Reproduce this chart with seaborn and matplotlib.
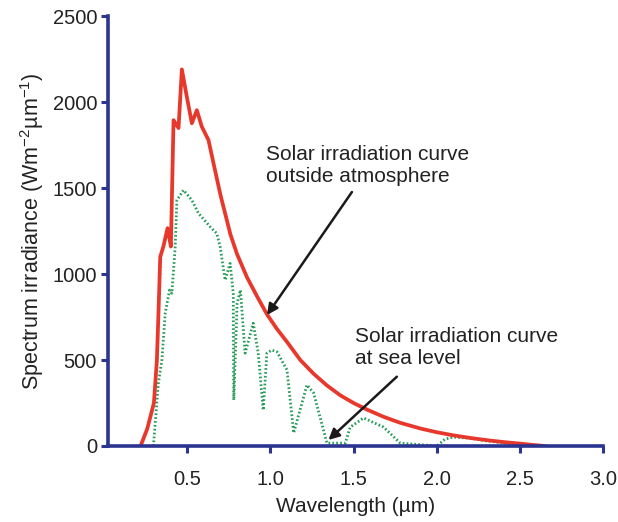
import matplotlib
matplotlib.use("Agg")
import matplotlib.pyplot as plt
import seaborn as sns
import numpy as np
import pandas as pd

# Solar irradiance outside the atmosphere (red)
outside_wl = [0.22, 0.26, 0.30, 0.318, 0.33, 0.338, 0.357, 0.382, 0.402, 0.418,
              0.448, 0.468, 0.498, 0.528, 0.558, 0.588, 0.628, 0.658, 0.70,
              0.76, 0.80, 0.86, 0.92, 0.98, 1.04, 1.10, 1.18, 1.26, 1.34, 1.42,
              1.50, 1.58, 1.68, 1.78, 1.90, 2.00, 2.10, 2.20, 2.30, 2.40, 2.50,
              2.58, 2.65]
outside_irr = [0, 100, 250, 500, 850, 1100, 1160, 1267, 1160, 1895,
               1849, 2190, 2030, 1877, 1953, 1857, 1779, 1645, 1460,
               1230, 1115, 980, 870, 765, 680, 605, 500, 420, 352, 295,
               250, 212, 170, 135, 102, 80, 62, 47, 34, 23, 14,
               6, 0]

# Solar irradiance at sea level (green dotted)
sea_wl = [0.297, 0.327, 0.348, 0.368, 0.394, 0.408, 0.428, 0.438, 0.478, 0.528,
          0.568, 0.638, 0.678, 0.698, 0.728, 0.758, 0.777, 0.780, 0.800, 0.820,
          0.848, 0.897, 0.927, 0.957, 0.979, 1.009, 1.04, 1.10, 1.14, 1.22,
          1.26, 1.34, 1.40, 1.45, 1.48, 1.56, 1.68, 1.78, 1.90, 2.00, 2.05,
          2.10, 2.20, 2.30, 2.38, 2.45, 2.55]
sea_irr = [0, 366, 500, 773, 907, 888, 1159, 1430, 1488, 1430,
           1353, 1275, 1236, 1159, 965, 1062, 888, 267, 830, 907,
           540, 714, 540, 209, 540, 558, 547, 442, 76, 355,
           308, 17, np.nan, 17, 110, 163, 110, 17, np.nan, 0, 40,
           52, 45, 30, 20, 10, 0]

x_ticks = [0.5, 1.0, 1.5, 2.0, 2.5, 3.0]
y_ticks = [0, 500, 1000, 1500, 2000, 2500]

sns.set_style("ticks")
plt.rcParams['font.family'] = ['Liberation Sans', 'DejaVu Sans']
plt.rcParams['mathtext.fontset'] = 'custom'
plt.rcParams['mathtext.rm'] = 'Liberation Sans'
plt.rcParams['mathtext.it'] = 'Liberation Sans'

axis_blue = "#2b3490"
text_col = "#222222"

fig = plt.figure(figsize=(6.18, 5.22), dpi=100)
ax = fig.add_axes([0.175, 0.1456, 0.801, 0.8235])

df_out = pd.DataFrame({"wl": outside_wl, "irr": outside_irr})
df_sea = pd.DataFrame({"wl": sea_wl, "irr": sea_irr})

sns.lineplot(data=df_sea, x="wl", y="irr", ax=ax, color="#259c58",
             linestyle=(0, (0.6, 0.8)), linewidth=2.0, sort=False,
             estimator=None)
sns.lineplot(data=df_out, x="wl", y="irr", ax=ax, color="#e8372b",
             linewidth=2.7, sort=False, estimator=None)

ax.set_xlim(0.025, 3.0)
ax.set_ylim(0, 2500)
ax.set_xticks(x_ticks)
ax.set_xticklabels([f"{t:.1f}" for t in x_ticks])
ax.set_yticks(y_ticks)
ax.set_yticklabels([str(t) for t in y_ticks])

for side in ["top", "right"]:
    ax.spines[side].set_visible(False)
for side in ["left", "bottom"]:
    ax.spines[side].set_color(axis_blue)
    ax.spines[side].set_linewidth(2.6)
    ax.spines[side].set_zorder(5)

ax.tick_params(axis="both", colors=axis_blue, width=2.2, length=5,
               direction="out", labelcolor=text_col, labelsize=14.5)
ax.tick_params(axis="x", pad=12)
ax.tick_params(axis="y", pad=3)

ax.set_xlabel("Wavelength (µm)", fontsize=15, color=text_col, labelpad=6)
ax.set_ylabel(r"Spectrum irradiance (Wm$^{-2}$µm$^{-1}$)", fontsize=15.5,
              color=text_col, labelpad=5)

ax.annotate("Solar irradiation curve\noutside atmosphere",
            xy=(0.98, 762), xytext=(0.976, 1631), textcoords="data",
            fontsize=15, color=text_col, va="center", ha="left")
ax.annotate("", xy=(0.98, 762), xytext=(1.49, 1477),
            arrowprops=dict(arrowstyle="-|>", color="#1a1a1a", lw=1.8,
                            mutation_scale=16, shrinkA=0, shrinkB=0))

ax.annotate("Solar irradiation curve\nat sea level",
            xy=(1.349, 35), xytext=(1.51, 573), textcoords="data",
            fontsize=15, color=text_col, va="center", ha="left")
ax.annotate("", xy=(1.349, 35), xytext=(1.76, 403),
            arrowprops=dict(arrowstyle="-|>", color="#1a1a1a", lw=1.8,
                            mutation_scale=16, shrinkA=0, shrinkB=0))

fig.savefig("out.png", dpi=100, facecolor="white")
